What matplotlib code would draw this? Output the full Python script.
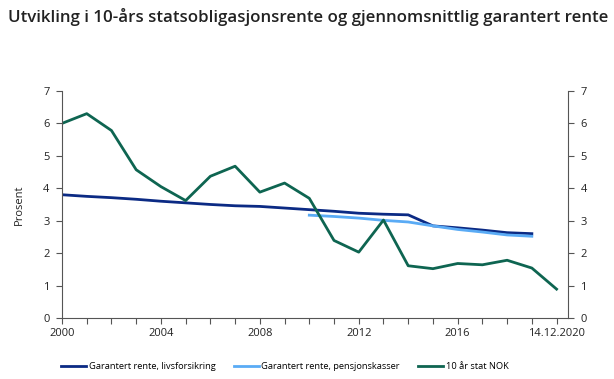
import matplotlib
matplotlib.use("Agg")
import matplotlib.pyplot as plt
import numpy as np

plt.rcParams["font.family"] = ["Open Sans", "DejaVu Sans"]

# Data (lest av fra figuren)
aar = list(range(2000, 2021))
stat_nok = [6.0, 6.3, 5.78, 4.57, 4.05, 3.62, 4.37, 4.68, 3.88, 4.16,
            3.69, 2.39, 2.03, 3.02, 1.61, 1.52, 1.68, 1.64, 1.78, 1.54, 0.89]
aar_liv = list(range(2000, 2020))
garantert_liv = [3.8, 3.75, 3.71, 3.66, 3.6, 3.55, 3.5, 3.46, 3.44, 3.39,
                 3.34, 3.29, 3.23, 3.2, 3.18, 2.84, 2.78, 2.71, 2.63, 2.6]
aar_pk = list(range(2010, 2020))
garantert_pk = [3.17, 3.13, 3.08, 3.01, 2.96, 2.84, 2.73, 2.65, 2.56, 2.52]

xtick_pos = [2000, 2004, 2008, 2012, 2016, 2020]
xtick_lab = ["2000", "2004", "2008", "2012", "2016", "14.12.2020"]

farge_liv = "#0b2a84"
farge_pk = "#5aabf5"
farge_nok = "#0e6551"
akse = "#555555"

fig = plt.figure(figsize=(6.14, 3.79), dpi=100)
ax = fig.add_axes([0.101, 0.161, 0.824, 0.599])

ax.plot(aar_liv, garantert_liv, color=farge_liv, lw=2, label="Garantert rente, livsforsikring")
ax.plot(aar_pk, garantert_pk, color=farge_pk, lw=2, label="Garantert rente, pensjonskasser")
ax.plot(aar, stat_nok, color=farge_nok, lw=2, label="10 år stat NOK")

ax.set_xlim(2000, 2020.46)
ax.set_ylim(0, 7)
ax.set_yticks(range(0, 8))
ax.set_xticks(range(2000, 2021), minor=True)
ax.set_xticks(xtick_pos)
ax.set_xticklabels(xtick_lab)
ax.set_ylabel("Prosent", fontsize=8, color="#222222", labelpad=13)

ax.spines["top"].set_visible(False)
for s in ["left", "right", "bottom"]:
    ax.spines[s].set_color(akse)
    ax.spines[s].set_linewidth(0.8)

ax.tick_params(axis="both", which="both", colors=akse, labelcolor="#222222", labelsize=8, length=4, width=0.8)
ax.tick_params(axis="y", right=True, labelright=True, pad=5)
ax.tick_params(axis="x", pad=3)

fig.text(0.013, 0.955, "Utvikling i 10-års statsobligasjonsrente og gjennomsnittlig garantert rente",
         fontsize=12.2, fontweight="semibold", color="#222222", va="center", ha="left")

fig.legend(loc="center", bbox_to_anchor=(0.464, 0.032), ncol=3, frameon=False, fontsize=6.7,
           handlelength=2.65, columnspacing=2.0, handletextpad=0.3)

fig.savefig("out.png", dpi=100)
